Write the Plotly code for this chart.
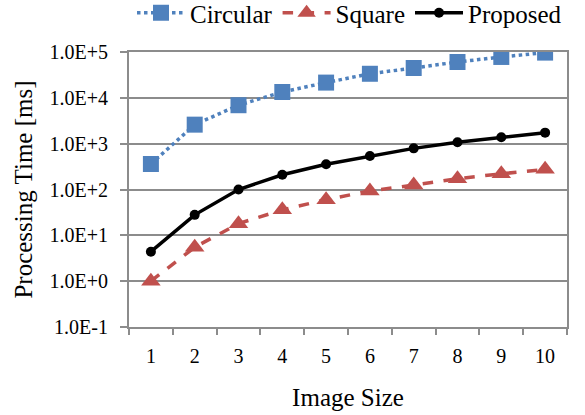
import plotly.graph_objects as go

image_size = ["1", "2", "3", "4", "5", "6", "7", "8", "9", "10"]
circular = [360, 2600, 6900, 13400, 21500, 33500, 44800, 60500, 78000, 97000]
square = [1.0, 5.5, 18, 36, 60, 93, 125, 172, 220, 275]
proposed = [4.4, 28, 100, 210, 355, 540, 790, 1070, 1380, 1740]

y_tickvals = [0.1, 1, 10, 100, 1000, 10000, 100000]
y_ticktext = ["1.0E-1", "1.0E+0", "1.0E+1", "1.0E+2", "1.0E+3", "1.0E+4", "1.0E+5"]

FONT = "Liberation Serif"
LEGEND_FONT = "Times New Roman"
GRID = "#8c8c8c"

fig = go.Figure()
fig.add_trace(go.Scatter(
    x=image_size, y=circular, name="Circular", mode="lines+markers",
    line=dict(color="#4F81BD", width=3.5, dash="dot"),
    marker=dict(symbol="square", size=16, color="#4F81BD"),
))
fig.add_trace(go.Scatter(
    x=image_size, y=square, name="Square", mode="lines+markers",
    line=dict(color="#C0504D", width=3.5, dash="dash"),
    marker=dict(symbol="triangle-up", size=17, color="#C0504D"),
))
fig.add_trace(go.Scatter(
    x=image_size, y=proposed, name="Proposed", mode="lines+markers",
    line=dict(color="#000000", width=3.5),
    marker=dict(symbol="circle", size=10, color="#000000"),
))

fig.update_layout(
    width=585, height=415,
    margin=dict(l=129, r=18, t=52, b=88, autoexpand=False),
    paper_bgcolor="white", plot_bgcolor="white",
    font=dict(family=FONT, size=20, color="black"),
    legend=dict(
        orientation="h", x=1.0, xanchor="right", y=1 - 13 / 415, yanchor="middle",
        yref="container", font=dict(family=LEGEND_FONT, size=25, color="black"),
        itemwidth=48, tracegroupgap=0, bgcolor="rgba(0,0,0,0)",
    ),
    showlegend=True,
)

fig.update_xaxes(
    type="category", tickson="boundaries", ticks="outside", ticklen=6,
    tickcolor=GRID, tickwidth=2, showgrid=False, automargin=False,
    showline=True, linecolor=GRID, linewidth=2, mirror=True,
    ticklabelstandoff=10, tickfont=dict(family=FONT, size=20),
    title=dict(text="Image Size", font=dict(family=FONT, size=25), standoff=22),
    range=[-0.5, 9.5],
)
fig.update_yaxes(
    type="log", range=[-1, 5], tickvals=y_tickvals, ticktext=y_ticktext,
    ticks="outside", ticklen=7, tickcolor=GRID, tickwidth=2, automargin=False,
    showgrid=True, gridcolor=GRID, gridwidth=2,
    showline=True, linecolor=GRID, linewidth=2, mirror=True,
    ticklabelstandoff=8, zeroline=False, tickfont=dict(family=FONT, size=20),
    title=dict(text="Processing Time [ms]", font=dict(family=FONT, size=25), standoff=10),
)

fig.write_html("out.html", config={"displayModeBar": False},
               post_script="document.body.style.margin='0';")
